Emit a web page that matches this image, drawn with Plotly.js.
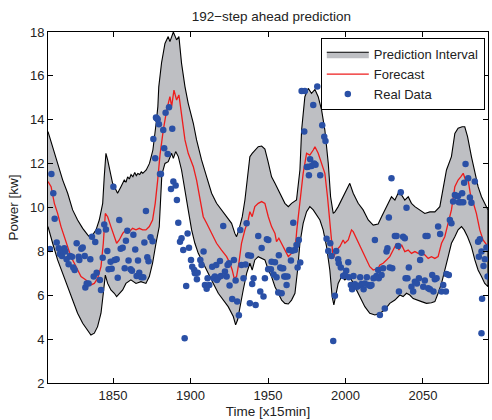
<!DOCTYPE html>
<html>
<head>
<meta charset="utf-8">
<script src="https://cdn.plot.ly/plotly-3.0.1.min.js"></script>
<style>html,body{margin:0;padding:0;background:#fff;}#chart{width:492px;height:420px;}</style>
</head>
<body>
<div id="chart"></div>
<script>
// Upper bound of prediction interval
const upT = [1808,1811,1814.2,1817.5,1820.7,1823.9,1827.1,1830.4,1833.6,1835.7,1836.8,1839,1841.1,1843.3,1844.3,1845.4,1846.5,1848.6,1849.7,1851.9,1852.9,1855.1,1857.2,1858.3,1859.4,1860.5,1861.6,1862.8,1864,1865,1866,1867.2,1868.2,1869.2,1871.4,1873.5,1875.7,1877.8,1878.9,1879.5,1881.3,1883.5,1885.6,1886.7,1888.9,1891,1892.5,1894.2,1896.4,1898.5,1901.8,1903.9,1907.1,1910.4,1913.6,1916.8,1920,1923.3,1926.5,1928.6,1929.7,1931.2,1933.4,1935.1,1937.2,1938.3,1939.8,1941.5,1943.7,1945.9,1948,1950,1952.3,1954.5,1956.6,1958.8,1960.9,1963.1,1965.2,1968.4,1970.6,1971.7,1973.8,1976,1978.1,1980.3,1982.4,1984.6,1986.7,1988.9,1990.4,1992.1,1993.2,1995.3,1999.6,2002.8,2005,2008.2,2011.4,2014.7,2017.9,2021.1,2023.3,2025.4,2027.6,2029.7,2031.9,2034,2036.2,2038.3,2040.5,2042.6,2044.8,2048,2051.2,2054.5,2057.7,2060.9,2063.1,2065.2,2068.4,2070.6,2072.7,2075.3,2077,2078.8,2081.3,2083.5,2085.6,2087.8,2089.9,2092];
const upV = [13.46,12.77,12.01,11.25,10.65,9.89,9.43,9.05,8.75,8.6,8.75,8.98,9.43,10.19,11.4,12.47,12.17,11.56,11.1,10.8,10.65,10.95,11.25,11.15,11.4,11.3,11.5,11.4,11.6,11.45,11.55,11.5,11.62,11.56,11.71,12.01,12.62,13.84,14.6,15.5,16.6,17.48,17.79,17.56,18.0,17.64,17.79,16.57,15.51,14.75,13.84,13.08,12.17,11.4,10.65,10.19,9.89,9.58,9.28,8.82,8.67,8.98,9.58,10.34,11.71,12.32,12.47,12.62,12.77,12.8,12.66,12.1,11.4,11.1,10.8,10.49,10.19,10.04,10.19,10.34,11.71,13.53,15.05,15.43,15.2,15.38,15.05,14.44,13.53,12.01,10.49,9.73,9.8,10.04,10.65,11.1,10.65,10.19,9.89,9.43,9.2,9.25,9.58,9.89,10.19,10.49,10.34,10.65,10.57,10.34,10.49,10.19,10.04,9.89,9.73,9.8,9.8,10.04,10.95,11.71,12.32,13.38,13.61,13.68,13.68,13.23,12.32,11.56,10.95,10.49,10.19,9.89];

// Lower bound of prediction interval
const loT = [1808,1811,1814.2,1817.5,1820.7,1823.9,1827.1,1830.4,1833.6,1835.7,1837.9,1840,1842.2,1843.7,1845,1846.5,1848.6,1850.8,1852.3,1854,1856.2,1858.3,1861.5,1864.8,1868,1871.2,1873.4,1875.5,1877.7,1879.8,1880.5,1881.5,1883.5,1885.6,1887.8,1888.9,1890.4,1892.1,1894.2,1896.4,1898.5,1900.7,1902.8,1905,1908.2,1911.4,1914.7,1917.9,1921.1,1924.3,1927.6,1929.1,1930.4,1931.9,1934,1936.2,1938.3,1939.8,1941.5,1943.7,1945.9,1948,1950.2,1952.3,1954.5,1956.6,1958.8,1960.9,1963.1,1965.2,1967.4,1969.1,1970.6,1972.7,1974.9,1977,1979.2,1981.3,1983.5,1985.6,1987.8,1989.9,1991.4,1992.5,1993.6,1995.3,1997.5,1999.6,2001.7,2003.9,2006,2008.2,2010.3,2012.5,2015.7,2019,2022.2,2025.4,2028.6,2031.9,2035.1,2037.2,2039.4,2041.5,2043.7,2045.8,2049.1,2052.3,2055.5,2057.7,2059.8,2062,2064.1,2066.3,2068.4,2070.6,2072.7,2074.9,2076.6,2078.8,2081.3,2083.5,2085.6,2087.8,2089.9,2092];
const loV = [9.13,8.37,7.61,7.0,6.39,5.78,5.18,4.72,4.42,4.19,4.27,4.57,5.18,6.09,6.92,6.54,6.24,6.09,5.94,6.09,6.24,6.54,6.7,6.54,6.62,6.54,6.85,7.46,8.37,9.13,10.2,11.5,12.01,12.09,12.47,12.24,12.55,12.32,11.71,10.8,9.89,8.98,8.37,7.91,7.46,7.0,6.54,6.09,5.78,5.48,5.03,4.65,4.88,5.48,6.24,7.0,7.46,7.15,7.61,7.76,7.68,7.61,7.15,6.85,6.39,6.09,5.78,5.63,5.6,5.78,6.09,7.15,8.37,9.28,9.81,10.04,9.89,9.66,9.43,8.98,8.22,7.15,5.94,5.56,5.94,6.54,6.85,6.7,6.85,6.7,6.39,6.09,5.78,5.48,5.18,5.1,5.18,5.33,5.63,5.78,6.01,5.94,6.09,6.01,5.85,5.78,5.71,5.63,5.66,5.71,6.09,6.54,7.15,7.76,8.37,8.67,8.98,9.13,8.98,8.67,8.22,7.61,7.15,6.85,6.54,6.39];

// Forecast
const fcT = [1808,1810,1812.1,1814.2,1816.4,1818.5,1820.7,1822.8,1825,1827.1,1829.3,1832.5,1835.7,1837.9,1840,1842.2,1843.7,1845,1846.5,1848.6,1850.8,1852.3,1854,1856.2,1858.3,1860.5,1862.6,1864.8,1866.9,1869.1,1871.2,1873.4,1875.5,1877.2,1878.8,1880.3,1882.4,1884.6,1886.7,1887.8,1889.3,1891,1892.5,1894.2,1896.4,1898.5,1901.8,1903.9,1906.1,1908.2,1910.4,1912.5,1914.7,1916.8,1920,1923.3,1925.4,1926.9,1928.2,1929.7,1931.2,1932.9,1935.1,1937.2,1938.3,1939.8,1941.5,1943.7,1945.9,1948,1950.2,1952.3,1954.5,1955.5,1957,1958.8,1960.9,1963.1,1965.2,1967.4,1968.6,1970.6,1972.7,1974.9,1977,1979.2,1980.3,1982.4,1984.6,1986.7,1988.4,1989.9,1991,1992.1,1994.2,1996.4,1998.5,1999.6,2001.8,2003.9,2005,2007.1,2009.3,2011.4,2013.6,2015.7,2017.9,2021.1,2022.2,2024.3,2026.5,2028.6,2030.8,2033,2034.5,2036.2,2038.3,2040.5,2042.6,2044.8,2046.9,2049.1,2051.2,2053.4,2055.5,2057.7,2059.8,2062,2064.1,2066.3,2068.4,2070.6,2072.7,2074.4,2076,2077.5,2079.2,2080.9,2082.6,2084.5,2086.7,2088.8,2092];
const fcV = [11.18,10.95,10.19,9.73,9.13,8.67,8.22,7.76,7.46,7.15,6.85,6.7,6.47,6.54,6.77,7.3,8.37,9.73,9.58,9.13,8.67,8.37,8.52,8.82,8.98,8.9,9.05,8.98,9.05,8.98,8.98,9.13,9.43,10.19,11.25,12.4,13.53,14.44,15.05,14.6,15.35,14.9,15.13,14.14,13.08,12.47,11.86,11.25,10.34,9.58,9.28,8.98,8.67,8.37,8.06,7.76,7.46,7.15,6.77,6.85,7.46,8.37,8.98,9.43,9.81,9.58,10.04,10.19,10.27,10.19,9.58,9.13,8.82,8.44,8.6,8.37,8.06,7.76,7.91,7.99,8.98,10.19,11.56,12.47,12.39,12.62,12.77,12.47,12.01,11.56,10.49,9.28,8.22,7.68,8.06,8.22,8.52,8.37,8.52,8.98,8.9,8.6,8.22,7.91,7.61,7.3,7.15,7.23,7.38,7.46,7.61,7.76,8.06,8.37,8.06,8.3,7.99,8.06,7.91,7.99,7.91,7.91,7.84,7.68,7.76,7.68,7.76,8.37,8.67,9.28,9.89,10.95,11.25,11.4,11.56,11.25,11.25,10.49,10.19,9.73,8.98,8.52,8.22];

// Real data
const rdT = [1809.3,1810.2,1811.4,1812.3,1813.6,1814.9,1815.7,1816.1,1817,1818.5,1819.2,1820,1821.3,1822.2,1823.5,1824.3,1825.2,1826.5,1827.8,1828.2,1829.5,1830.4,1831.7,1832.1,1833,1834.2,1835.3,1836.4,1837.5,1838.5,1839.4,1840.5,1841.5,1842.2,1843.3,1844.3,1845.4,1846.3,1847.1,1848.4,1849.1,1850.2,1851,1852.3,1853,1854,1854.9,1856.2,1857.5,1858.3,1859.2,1860,1861.3,1862.2,1863.1,1864.3,1865.2,1866.1,1866.9,1868.2,1869.5,1870.2,1871.2,1872.1,1872.9,1874.2,1875.5,1876,1877.2,1877.7,1878.1,1878.8,1879.6,1880.3,1880.9,1882.4,1883,1883.9,1885.2,1886.1,1887.4,1888.2,1888.9,1890.4,1891.2,1892.1,1893.2,1894.2,1895.3,1896.2,1897.2,1898.1,1899,1900.3,1901.1,1902.4,1902.8,1904.1,1904.6,1906.3,1907.1,1908.4,1909.3,1910.4,1911,1912.1,1914,1914.9,1915.7,1916.6,1917,1917.9,1919,1919.6,1921.1,1922.2,1923.3,1923.9,1924.8,1925.2,1926.9,1928,1929.1,1930.1,1931.2,1932.1,1932.9,1934.2,1935.5,1936.2,1937.2,1938.3,1939,1939.8,1940.7,1942,1943.7,1945,1945.9,1947.1,1948,1949.3,1950.1,1950.2,1951.9,1952.3,1953.6,1954.5,1955.5,1956.6,1957,1957.9,1958.8,1958.8,1959.8,1960.5,1961.3,1962,1962.6,1963.7,1964.8,1965.6,1966.3,1967.4,1968.4,1969.1,1969.9,1970.8,1971.7,1973.4,1973.8,1975.1,1976,1976.4,1977.2,1978.1,1979.2,1979.8,1980.7,1981.8,1983.7,1985,1986.3,1987.1,1987.8,1988.9,1990.2,1991,1992.1,1993.2,1994,1995.3,1995.7,1997,1998.5,1999.6,2000.5,2001.8,2002.2,2003.5,2004.3,2005.2,2006.1,2007.4,2008.2,2009.5,2010.4,2011.7,2012.5,2013.8,2014.7,2016,2016.8,2018.1,2019,2020,2021.1,2021.5,2022.2,2023.3,2024.3,2025.4,2026.5,2027.1,2028,2028.6,2029.7,2030.2,2031.9,2033,2034,2034.5,2035.7,2037.2,2038.3,2038.8,2039.4,2040,2040.9,2042.6,2043.7,2044.8,2046.1,2047.4,2048.2,2049.1,2050.2,2051.2,2051.7,2053,2053.4,2054.5,2056,2056.8,2057.7,2058.8,2059.8,2061.1,2062,2063.1,2064.8,2065.2,2066.7,2067.4,2068.4,2069.5,2070.6,2071.7,2072.7,2073.2,2074.5,2075.3,2076,2076.6,2077.5,2079.2,2080.3,2081.3,2083.5,2085.6,2086.1,2086.7,2087.8,2087.8,2088.2,2089.1,2090,2091,2091.7];
const rdV = [8.11,11.53,10.65,9.49,8.4,8.14,7.88,8.06,7.79,8.14,7.99,7.64,7.41,7.79,7.76,7.27,7.15,8.37,7.76,7.61,8.12,8.18,7.79,6.35,6.54,6.54,7.64,8.67,6.85,8.43,7.03,8.91,6.7,6.24,7.71,9.23,9.0,8.02,7.18,7.53,7.21,10.95,7.61,7.64,6.8,9.43,8.12,8.17,7.23,8.49,8.94,7.58,7.18,7.12,8.76,8.08,6.88,7.58,7.03,6.82,6.82,8.4,9.84,7.73,7.55,8.64,8.46,13.12,12.24,14.1,14.07,14.02,13.79,11.53,11.53,13.53,12.7,14.32,12.44,14.57,10.84,13.59,11.18,11.0,10.34,9.31,8.44,8.6,8.06,4.04,6.42,8.82,8.17,7.61,7.3,7.15,7.0,6.73,7.03,7.61,7.38,7.99,6.47,6.3,6.77,6.47,7.3,6.77,6.85,7.38,6.7,6.8,7.56,6.88,9.16,7.08,6.85,7.38,7.46,6.44,5.83,7.61,6.67,5.71,5.09,8.98,7.38,6.77,7.4,9.28,7.82,5.63,7.8,6.51,6.77,5.56,8.7,6.17,8.15,5.94,6.77,8.55,7.18,8.52,7.18,7.53,6.95,7.5,6.82,6.13,7.82,7.26,7.23,6.09,7.23,6.85,6.85,6.47,6.85,8.06,7.58,8.03,9.31,8.06,8.29,7.27,8.52,7.49,15.31,13.46,15.31,11.85,11.86,11.47,12.2,11.89,14.67,12.01,11.95,15.51,11.47,13.75,13.23,13.03,8.58,8.02,8.37,7.79,3.92,5.98,8.02,7.64,7.46,7.27,6.88,6.92,7.12,7.5,6.82,6.47,6.27,6.88,6.5,6.39,6.42,6.82,6.51,6.27,6.54,6.82,6.47,6.42,6.47,6.77,8.52,6.88,7.15,6.77,5.1,6.92,7.23,5.4,7.99,8.14,9.54,7.26,11.33,7.23,8.7,8.7,8.24,6.17,10.69,8.67,8.6,6.77,9.99,6.77,7.26,6.39,6.17,6.62,6.54,6.77,7.61,7.94,6.39,6.67,8.7,8.7,6.32,6.27,6.92,6.17,6.73,6.77,9.13,8.79,6.17,6.47,6.17,6.97,6.92,9.43,9.28,10.27,10.57,10.52,10.52,10.24,10.24,10.65,10.24,11.13,11.98,11.33,10.46,10.22,11.18,8.44,7.76,8.55,7.99,4.27,5.84,7.33,7.64,8.18,6.85];

const xTicks = [1850, 1900, 1950, 2000, 2050];
const yTicks = [2, 4, 6, 8, 10, 12, 14, 16, 18];

const bandX = upT.concat(loT.slice().reverse());
const bandY = upV.concat(loV.slice().reverse());

const FONT = 'Liberation Sans, Arial, Helvetica, sans-serif';
const traces = [
  {x: bandX, y: bandY, type: 'scatter', mode: 'lines', fill: 'toself',
   fillcolor: '#bebfc3', line: {color: '#000', width: 1.1}, name: 'Prediction Interval', hoverinfo: 'skip'},
  {x: fcT, y: fcV, type: 'scatter', mode: 'lines', line: {color: '#ee1c1c', width: 1.3}, name: 'Forecast'},
  {x: rdT, y: rdV, type: 'scatter', mode: 'markers', marker: {color: '#2a50a6', size: 6.5}, name: 'Real Data'}
];

const axisBase = {
  showline: true, linecolor: '#000', linewidth: 1, mirror: 'ticks',
  ticks: 'inside', ticklen: 5, tickcolor: '#000', showgrid: false, zeroline: false,
  tickfont: {family: FONT, size: 13, color: '#222'}
};

const layout = {
  width: 492, height: 420,
  margin: {l: 48, r: 4, t: 32, b: 37},
  paper_bgcolor: '#fff', plot_bgcolor: '#fff',
  font: {family: FONT, size: 13, color: '#222'},
  title: {text: '192\u2212step ahead prediction', x: 0.5516, xanchor: 'center', y: 0.962, yanchor: 'middle',
          font: {family: FONT, size: 13.5, color: '#222'}},
  xaxis: Object.assign({}, axisBase, {range: [1808, 2092], tickvals: xTicks, ticktext: xTicks.map(String),
          title: {text: 'Time [x15min]', font: {family: FONT, size: 13.5, color: '#222'}, standoff: 4}}),
  yaxis: Object.assign({}, axisBase, {range: [2, 18], tickvals: yTicks, ticktext: yTicks.map(String),
          title: {text: 'Power [kw]', font: {family: FONT, size: 13.5, color: '#222'}, standoff: 8}}),
  showlegend: true,
  legend: {x: 0.62, y: 0.982, xanchor: 'left', yanchor: 'top', bgcolor: '#fff', bordercolor: '#000', borderwidth: 1,
           font: {family: FONT, size: 13, color: '#222'}, tracegroupgap: 0, itemwidth: 42}
};

Plotly.newPlot('chart', traces, layout, {staticPlot: true, displayModeBar: false});
</script>
</body>
</html>
